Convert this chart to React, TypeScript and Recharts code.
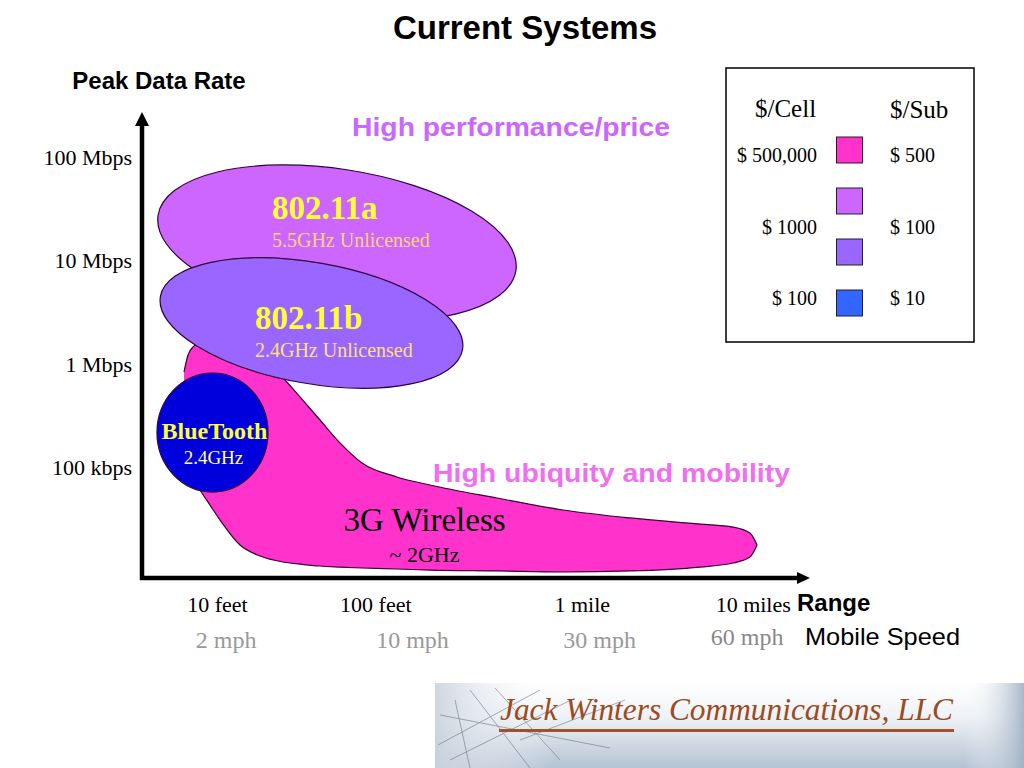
import React from "react";
import {
  ComposedChart,
  Area,
  Scatter,
  XAxis,
  YAxis,
  ReferenceLine,
  Label,
  Customized,
} from "recharts";

const SERIF = "'Liberation Serif', 'Times New Roman', serif";
const SANS = "'Liberation Sans', Arial, sans-serif";

// chart frame
const WIDTH = 1024;
const HEIGHT = 768;
const MARGIN = { top: 112, right: 214, bottom: 122, left: 0 };
const Y_AXIS_W = 142;
const RANGE_AXIS_H = 48;
const SPEED_AXIS_H = 20;
const X_DOMAIN: [number, number] = [0, 100];
const Y_DOMAIN: [number, number] = [0.93, 5.44]; // log10(kbps)
const PLOT_W = WIDTH - MARGIN.left - MARGIN.right - Y_AXIS_W;
const PLOT_H = HEIGHT - MARGIN.top - MARGIN.bottom - RANGE_AXIS_H - SPEED_AXIS_H;
const PX_PER_X = PLOT_W / (X_DOMAIN[1] - X_DOMAIN[0]);
const PX_PER_Y = PLOT_H / (Y_DOMAIN[1] - Y_DOMAIN[0]);

// axis ticks
const rangeTicks = [
  { value: 11.3, label: "10 feet" },
  { value: 35.0, label: "100 feet" },
  { value: 65.9, label: "1 mile" },
  { value: 91.5, label: "10 miles" },
];
const speedTicks = [
  { value: 12.6, label: "2 mph" },
  { value: 40.5, label: "10 mph" },
  { value: 68.5, label: "30 mph" },
  { value: 90.6, label: "60 mph" },
];
const rateTicks = [
  { value: 2, label: "100 kbps" },
  { value: 3, label: "1 Mbps" },
  { value: 4, label: "10 Mbps" },
  { value: 5, label: "100 Mbps" },
];

// 3G coverage region: range position vs [low, high] log10 rate
const wireless3G = [
  { x: 6.29, bottom: 2.556, top: 2.924 },
  { x: 6.89, bottom: 2.072, top: 3.088 },
  { x: 7.78, bottom: 1.878, top: 3.175 },
  { x: 8.68, bottom: 1.782, top: 3.215 },
  { x: 10.18, bottom: 1.636, top: 3.234 },
  { x: 11.68, bottom: 1.491, top: 3.215 },
  { x: 14.67, bottom: 1.249, top: 3.156 },
  { x: 17.66, bottom: 1.143, top: 3.06 },
  { x: 21.11, bottom: 1.085, top: 2.866 },
  { x: 23.65, bottom: 1.065, top: 2.682 },
  { x: 26.65, bottom: 1.046, top: 2.459 },
  { x: 29.64, bottom: 1.036, top: 2.237 },
  { x: 32.93, bottom: 1.027, top: 2.043 },
  { x: 38.17, bottom: 1.017, top: 1.908 },
  { x: 43.11, bottom: 1.007, top: 1.83 },
  { x: 53.14, bottom: 0.998, top: 1.704 },
  { x: 63.02, bottom: 0.988, top: 1.588 },
  { x: 73.05, bottom: 0.998, top: 1.511 },
  { x: 83.53, bottom: 1.036, top: 1.452 },
  { x: 88.47, bottom: 1.075, top: 1.423 },
  { x: 91.02, bottom: 1.133, top: 1.365 },
  { x: 92.07, bottom: 1.249, top: 1.249 },
];
const wirelessLabel = [{ name: "3G Wireless", sub: "~ 2GHz", x: 42.3, y: 1.491 }];

// other systems: centre and half-extent in range / log-rate units
const systems = [
  { name: "802.11a", sub: "5.5GHz Unlicensed", x: 29.19, y: 4.173, rx: 27.1, ry: 0.714 },
  { name: "802.11b", sub: "2.4GHz Unlicensed", x: 25.37, y: 3.398, rx: 22.96, ry: 0.585 },
  { name: "BlueTooth", sub: "2.4GHz", x: 10.55, y: 2.338, rx: 8.31, ry: 0.576 },
];

// cost legend
const tierColors = ["#FF33CC", "#CC66FF", "#9966FF", "#3366FF"];
const priceRows = [
  { cell: "$ 500,000", sub: "$ 500", row: 0 },
  { cell: "$ 1000", sub: "$ 100", row: 1.5 },
  { cell: "$ 100", sub: "$ 10", row: 3 },
];

const systemStyles: Record<string, any> = {
  "802.11a": {
    fill: "#CC66FF", rotate: 8.8, anchor: "start",
    title: { dx: -65, dy: -35, size: 33 }, subLine: { dx: -65, dy: -3, size: 20, color: "#FFD470" },
  },
  "802.11b": {
    fill: "#9966FF", rotate: 10, anchor: "start",
    title: { dx: -56.5, dy: -5, size: 33 }, subLine: { dx: -56.5, dy: 27, size: 20, color: "#FFE070" },
  },
  BlueTooth: {
    fill: "#0000DD", rotate: 0, anchor: "middle",
    title: { dx: 2, dy: -1.5, size: 24 }, subLine: { dx: 1, dy: 24.5, size: 19, color: "#FFFF88" },
  },
};

const SystemShape = (props: any) => {
  const { cx, cy, payload } = props;
  const st = systemStyles[payload.name];
  return (
    <g>
      <ellipse
        cx={cx}
        cy={cy}
        rx={payload.rx * PX_PER_X}
        ry={payload.ry * PX_PER_Y}
        transform={`rotate(${st.rotate} ${cx} ${cy})`}
        fill={st.fill}
        stroke="#330033"
        strokeWidth={1.2}
      />
      <text
        x={cx + st.title.dx}
        y={cy + st.title.dy}
        textAnchor={st.anchor}
        dominantBaseline="central"
        fontFamily={SERIF}
        fontWeight="bold"
        fontSize={st.title.size}
        fill="#FFFF33"
      >
        {payload.name}
      </text>
      <text
        x={cx + st.subLine.dx}
        y={cy + st.subLine.dy}
        textAnchor={st.anchor}
        dominantBaseline="central"
        fontFamily={SERIF}
        fontSize={st.subLine.size}
        fill={st.subLine.color}
      >
        {payload.sub}
      </text>
    </g>
  );
};

const WirelessLabelShape = (props: any) => {
  const { cx, cy, payload } = props;
  return (
    <g>
      <text x={cx} y={cy} textAnchor="middle" dominantBaseline="central" fontFamily={SERIF} fontSize={33} fill="#000">
        {payload.name}
      </text>
      <text x={cx} y={cy + 34} textAnchor="middle" dominantBaseline="central" fontFamily={SERIF} fontSize={22} fill="#000">
        {payload.sub}
      </text>
    </g>
  );
};

const Arrow = (props: any) => {
  const { x1, y1, x2, y2, head = 13, half = 7 } = props;
  const len = Math.hypot(x2 - x1, y2 - y1) || 1;
  const ux = (x2 - x1) / len;
  const uy = (y2 - y1) / len;
  const bx = x2 - ux * head;
  const by = y2 - uy * head;
  return (
    <g>
      <line x1={x1 - ux * 2} y1={y1 - uy * 2} x2={bx} y2={by} stroke="#000" strokeWidth={4.5} />
      <polygon
        points={`${x2},${y2} ${bx - uy * half},${by + ux * half} ${bx + uy * half},${by - ux * half}`}
        fill="#000"
      />
    </g>
  );
};

const RangeTick = (props: any) => {
  const { x, y, payload } = props;
  const t = rangeTicks.find((r) => r.value === payload.value);
  return (
    <text x={x} y={y + 26} textAnchor="middle" dominantBaseline="central" fontFamily={SERIF} fontSize={22} fill="#000">
      {t ? t.label : ""}
    </text>
  );
};

const SpeedTick = (props: any) => {
  const { x, y, payload } = props;
  const t = speedTicks.find((r) => r.value === payload.value);
  const last = t && t.label === "60 mph";
  return (
    <text
      x={x}
      y={y + (last ? 11 : 14)}
      textAnchor="middle"
      dominantBaseline="central"
      fontFamily={SERIF}
      fontSize={24}
      fill={last ? "#888888" : "#999999"}
    >
      {t ? t.label : ""}
    </text>
  );
};

const RateTick = (props: any) => {
  const { x, y, payload } = props;
  const t = rateTicks.find((r) => r.value === payload.value);
  return (
    <text x={x - 10} y={y} textAnchor="end" dominantBaseline="central" fontFamily={SERIF} fontSize={22} fill="#000">
      {t ? t.label : ""}
    </text>
  );
};

const CostLegend = () => {
  const box = { x: 726, y: 68, w: 248, h: 274 };
  return (
    <g>
      <rect x={box.x} y={box.y} width={box.w} height={box.h} fill="#fff" stroke="#000" strokeWidth={1.5} />
      <text x={755} y={108} dominantBaseline="central" fontFamily={SERIF} fontSize={25}>$/Cell</text>
      <text x={890} y={109} dominantBaseline="central" fontFamily={SERIF} fontSize={25}>$/Sub</text>
      {tierColors.map((c, i) => (
        <rect key={c} x={836.5} y={137 + i * 51} width={26} height={26} fill={c} stroke="#222" strokeWidth={1} />
      ))}
      {priceRows.map((r) => (
        <g key={r.cell}>
          <text x={817} y={155 + r.row * 47.7} textAnchor="end" dominantBaseline="central" fontFamily={SERIF} fontSize={20}>
            {r.cell}
          </text>
          <text x={890} y={155 + r.row * 47.7} dominantBaseline="central" fontFamily={SERIF} fontSize={20}>
            {r.sub}
          </text>
        </g>
      ))}
    </g>
  );
};

const Logo = () => (
  <g>
    <defs>
      <linearGradient id="logoBg" x1="0" y1="0" x2="0" y2="1">
        <stop offset="0%" stopColor="#ffffff" />
        <stop offset="40%" stopColor="#eef2f6" />
        <stop offset="100%" stopColor="#b4c3d3" />
      </linearGradient>
      <linearGradient id="logoSide" x1="0" y1="0" x2="1" y2="0">
        <stop offset="0%" stopColor="#c9d2dc" stopOpacity={0.9} />
        <stop offset="20%" stopColor="#ffffff" stopOpacity={0} />
        <stop offset="90%" stopColor="#ffffff" stopOpacity={0} />
        <stop offset="100%" stopColor="#9fb0c3" stopOpacity={0.9} />
      </linearGradient>
    </defs>
    <rect x={435} y={683} width={589} height={85} fill="url(#logoBg)" />
    <rect x={435} y={683} width={589} height={85} fill="url(#logoSide)" />
    <g stroke="#6c7988" strokeWidth={0.8} opacity={0.75}>
      <line x1={438} y1={745} x2={540} y2={690} />
      <line x1={450} y1={760} x2={575} y2={698} />
      <line x1={470} y1={690} x2={530} y2={768} />
      <line x1={495} y1={688} x2={560} y2={760} />
      <line x1={440} y1={715} x2={610} y2={748} />
      <line x1={520} y1={740} x2={625} y2={700} />
      <line x1={455} y1={700} x2={470} y2={768} />
    </g>
    <text
      x={500}
      y={720}
      fontFamily={SERIF}
      fontStyle="italic"
      fontSize={32}
      fill="#9C4A1E"
      textLength={453}
      lengthAdjust="spacingAndGlyphs"
    >
      Jack Winters Communications, LLC
    </text>
    <rect x={499} y={729} width={455} height={3} fill="#A0522D" />
  </g>
);

const SlideText = () => (
  <g>
    <text x={525} y={27} textAnchor="middle" dominantBaseline="central" fontFamily={SANS} fontWeight="bold" fontSize={33}>
      Current Systems
    </text>
    <text
      x={352}
      y={127}
      dominantBaseline="central"
      fontFamily={SANS}
      fontWeight="bold"
      fontSize={26}
      fill="#CC66FF"
      textLength={318}
      lengthAdjust="spacingAndGlyphs"
    >
      High performance/price
    </text>
    <text
      x={433}
      y={473}
      dominantBaseline="central"
      fontFamily={SANS}
      fontWeight="bold"
      fontSize={26}
      fill="#F06EF0"
      textLength={357}
      lengthAdjust="spacingAndGlyphs"
    >
      High ubiquity and mobility
    </text>
    <CostLegend />
    <Logo />
  </g>
);

export default function App() {
  return (
    <div style={{ position: "absolute", left: 0, top: 0, width: WIDTH, height: HEIGHT, background: "#fff" }}>
      <ComposedChart width={WIDTH} height={HEIGHT} data={wireless3G} margin={MARGIN}>
        <XAxis
          xAxisId="range"
          dataKey="x"
          type="number"
          domain={X_DOMAIN}
          allowDataOverflow
          ticks={rangeTicks.map((t) => t.value)}
          interval={0}
          tick={<RangeTick />}
          tickSize={0}
          tickMargin={0}
          axisLine={false}
          tickLine={false}
          height={RANGE_AXIS_H}
        >
          <Label
            content={(p: any) => (
              <text
                x={p.viewBox.x + p.viewBox.width - 13}
                y={p.viewBox.y + 24}
                dominantBaseline="central"
                fontFamily={SANS}
                fontWeight="bold"
                fontSize={24}
              >
                Range
              </text>
            )}
          />
        </XAxis>
        <XAxis
          xAxisId="speed"
          dataKey="x"
          type="number"
          domain={X_DOMAIN}
          allowDataOverflow
          ticks={speedTicks.map((t) => t.value)}
          interval={0}
          tick={<SpeedTick />}
          tickSize={0}
          tickMargin={0}
          axisLine={false}
          tickLine={false}
          height={SPEED_AXIS_H}
        >
          <Label
            content={(p: any) => (
              <text
                x={p.viewBox.x + p.viewBox.width - 5}
                y={p.viewBox.y + 10}
                dominantBaseline="central"
                fontFamily={SANS}
                fontSize={24}
                textLength={155}
                lengthAdjust="spacingAndGlyphs"
              >
                Mobile Speed
              </text>
            )}
          />
        </XAxis>
        <YAxis
          type="number"
          domain={Y_DOMAIN}
          allowDataOverflow
          ticks={rateTicks.map((t) => t.value)}
          interval={0}
          tick={<RateTick />}
          tickSize={0}
          tickMargin={0}
          axisLine={false}
          tickLine={false}
          width={Y_AXIS_W}
        >
          <Label
            content={(p: any) => (
              <text
                x={p.viewBox.x + p.viewBox.width + 17}
                y={p.viewBox.y - 32}
                textAnchor="middle"
                dominantBaseline="central"
                fontFamily={SANS}
                fontWeight="bold"
                fontSize={24}
              >
                Peak Data Rate
              </text>
            )}
          />
        </YAxis>

        <Area
          xAxisId="range"
          type="monotoneX"
          dataKey={(d: any) => [d.bottom, d.top]}
          fill="#FF33CC"
          fillOpacity={1}
          stroke="#330033"
          strokeWidth={1.2}
          dot={false}
          activeDot={false}
          isAnimationActive={false}
        />
        <Scatter
          xAxisId="range"
          data={systems}
          dataKey="y"
          shape={<SystemShape />}
          isAnimationActive={false}
        />
        <Scatter
          xAxisId="range"
          data={wirelessLabel}
          dataKey="y"
          shape={<WirelessLabelShape />}
          isAnimationActive={false}
        />

        <ReferenceLine
          xAxisId="range"
          segment={[
            { x: X_DOMAIN[0], y: Y_DOMAIN[0] },
            { x: X_DOMAIN[0], y: Y_DOMAIN[1] },
          ]}
          ifOverflow="visible"
          shape={(p: any) => <Arrow {...p} head={14} half={7} />}
        />
        <ReferenceLine
          xAxisId="range"
          segment={[
            { x: X_DOMAIN[0], y: Y_DOMAIN[0] },
            { x: X_DOMAIN[1], y: Y_DOMAIN[0] },
          ]}
          ifOverflow="visible"
          shape={(p: any) => <Arrow {...p} head={13} half={6} />}
        />

        <Customized component={<SlideText />} />
      </ComposedChart>
    </div>
  );
}
